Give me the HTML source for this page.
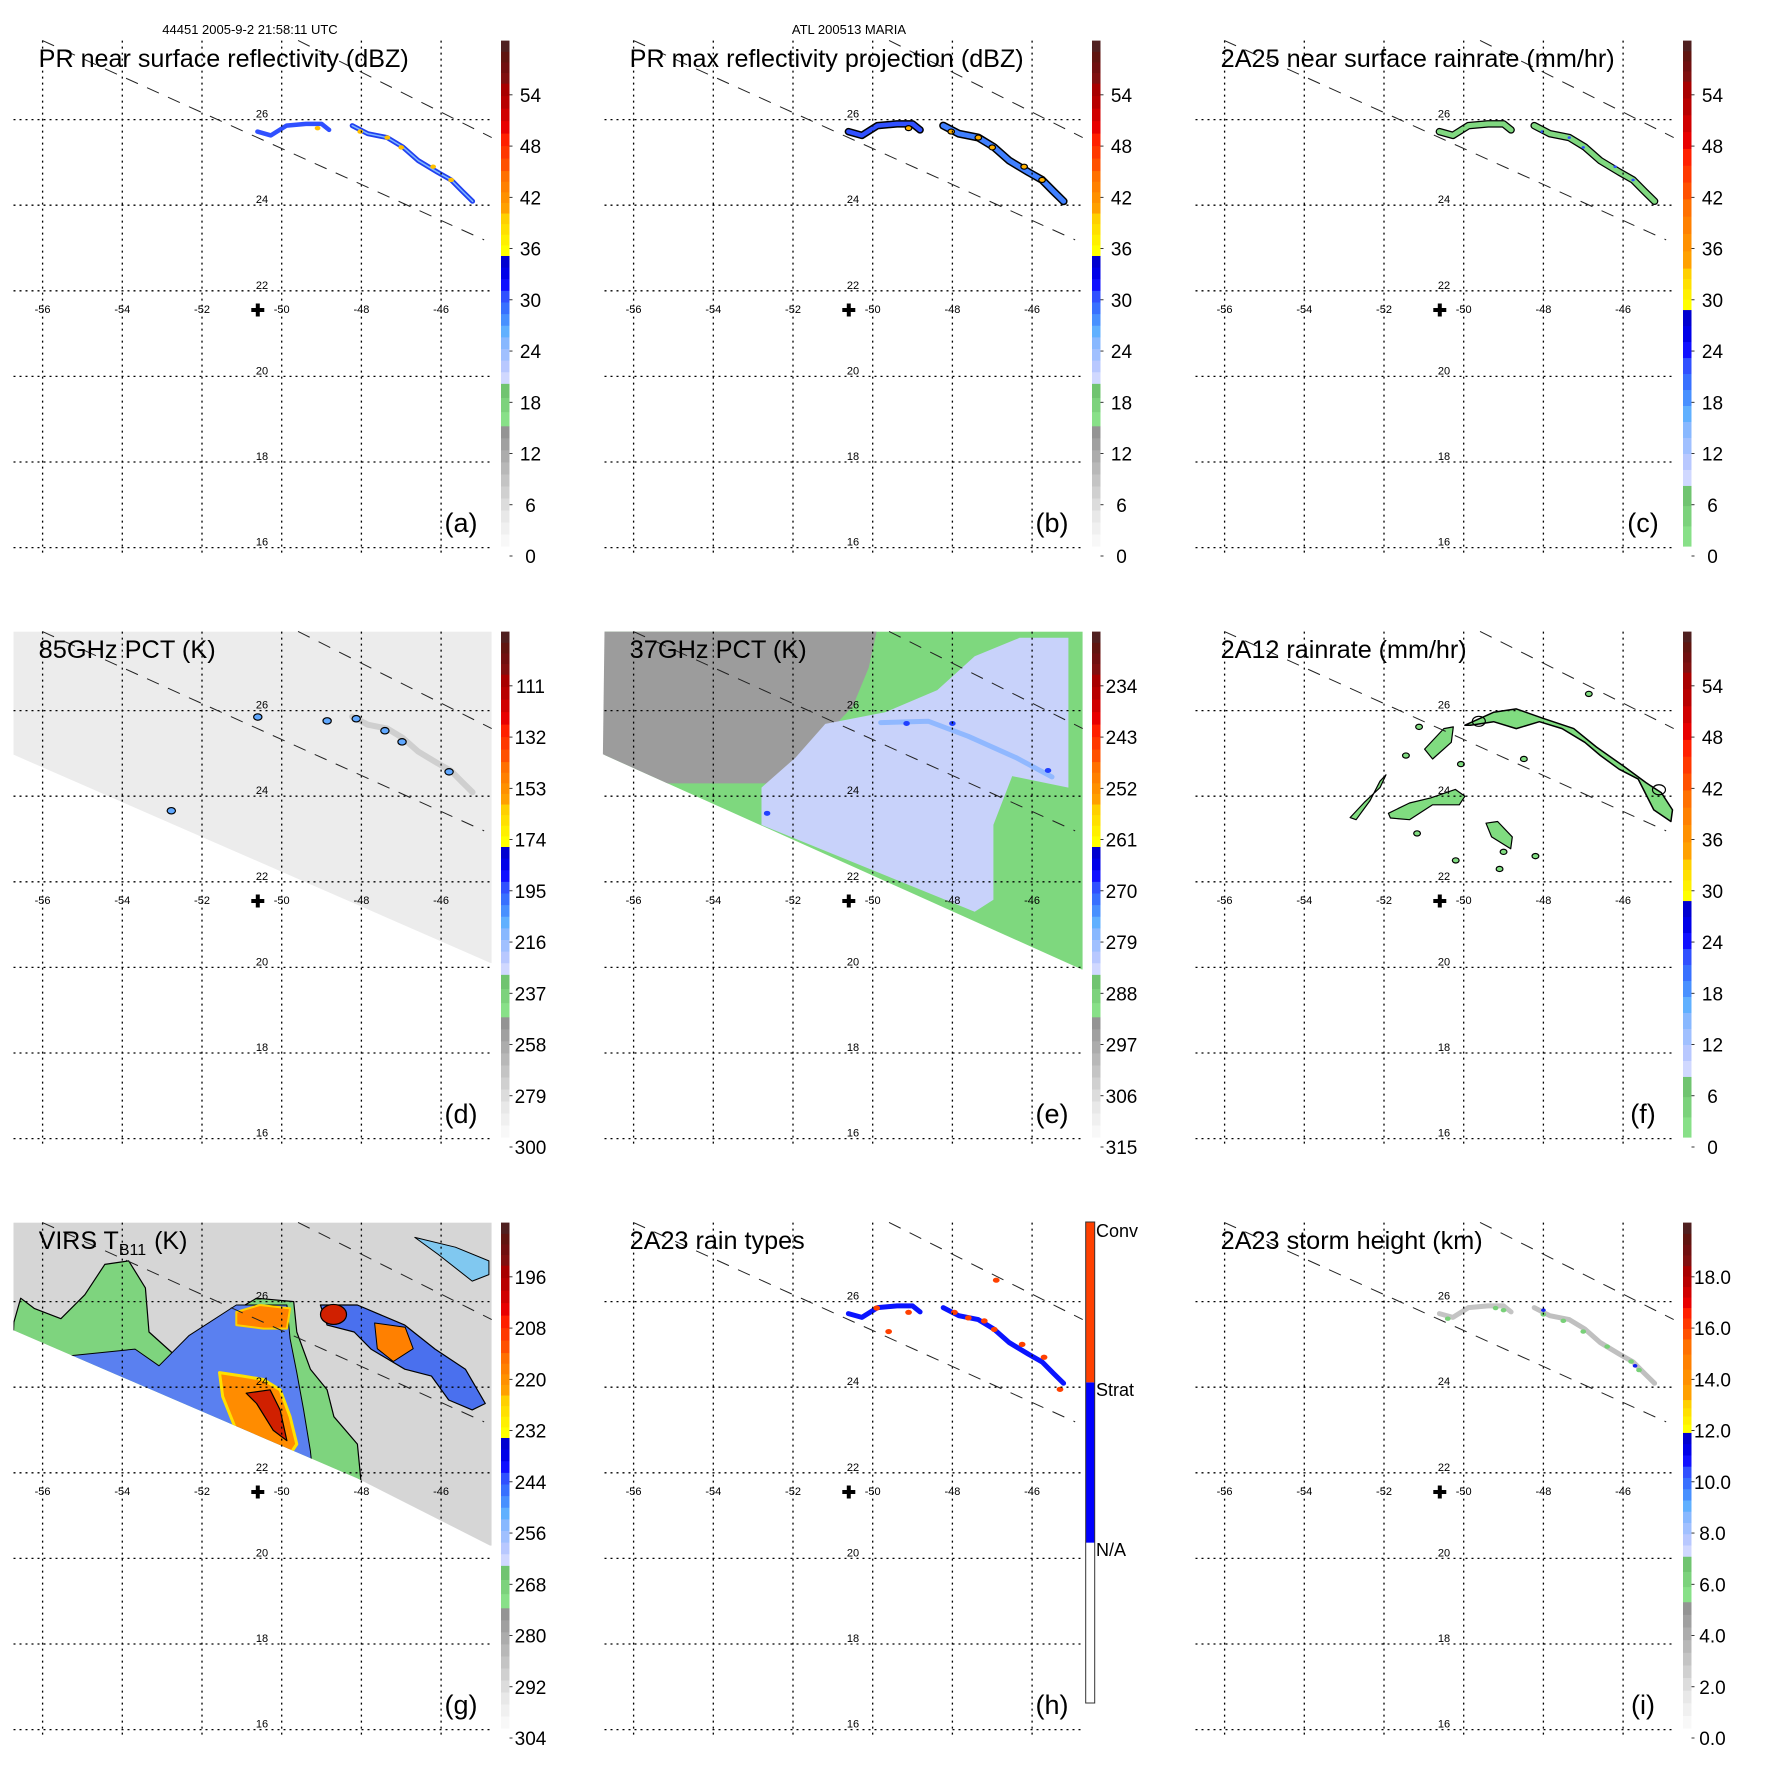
<!DOCTYPE html>
<html><head><meta charset="utf-8"><title>TRMM ATL 200513 MARIA</title>
<style>html,body{margin:0;padding:0;background:#fff}svg{display:block}text{font-family:"Liberation Sans",Arial,sans-serif}</style>
</head><body>
<svg id="fig" xmlns="http://www.w3.org/2000/svg" width="1771" height="1771" viewBox="0 0 1771 1771">
<rect x="0" y="0" width="1771" height="1771" fill="#fff"/>
<text x="250" y="34" font-size="13" text-anchor="middle">44451 2005-9-2 21:58:11 UTC</text>
<text x="849" y="34" font-size="13" text-anchor="middle">ATL 200513 MARIA</text>
</svg>
<script>
// ---- data arrays ----
const lonTicks = [-56,-54,-52,-50,-48,-46];
const latTicks = [16,18,20,22,24,26];
const lonLabels = ["-56","-54","-52","-50","-48","-46"];
const latLabels = ["16","18","20","22","24","26"];
const panelTitles = ["PR near surface reflectivity (dBZ)","PR max reflectivity projection (dBZ)","2A25 near surface rainrate (mm/hr)","85GHz PCT (K)","37GHz PCT (K)","2A12 rainrate (mm/hr)","VIRS T","2A23 rain types","2A23 storm height (km)"];
const titleWidths = [370,394,394,177,177,246,0,175,262];
const panelLetters = ["(a)","(b)","(c)","(d)","(e)","(f)","(g)","(h)","(i)"];
const tickA = [0,6,12,18,24,30,36,42,48,54];
const tickD = [300,279,258,237,216,195,174,153,132,111];
const tickE = [315,306,297,288,279,270,261,252,243,234];
const tickG = [304,292,280,268,256,244,232,220,208,196];
const tickI = ["0.0","2.0","4.0","6.0","8.0","10.0","12.0","14.0","16.0","18.0"];
const rangeA = [0,60], rangeD = [300,90], rangeE = [315,225], rangeG = [304,184], rangeI = [0,20];
const stormLon = -50.6, stormLat = 21.55;
const swathLoLon = [-56.01,-44.92], swathLoLat = [27.85,23.19];
const swathHiLon = [-49.59,-44.73], swathHiLat = [27.85,25.58];
// rain band (PR)
const bandWLon = [-50.61,-50.27,-49.88,-49.39,-49.0,-48.81];
const bandWLat = [25.72,25.63,25.86,25.9,25.9,25.76];
const bandELon = [-48.23,-47.84,-47.35,-46.96,-46.57,-46.09,-45.75,-45.46,-45.21];
const bandELat = [25.86,25.67,25.58,25.36,25.04,24.77,24.59,24.32,24.09];
const coreLon = [-48.03,-47.35,-47.0,-46.2,-45.75,-49.1];
const coreLat = [25.72,25.58,25.35,24.9,24.59,25.8];
const convLon = [-49.9,-49.1,-47.95,-47.6,-47.2,-46.95,-46.25,-45.7,-45.3,-49.6,-46.9];
const convLat = [25.85,25.75,25.75,25.62,25.55,25.35,25.0,24.7,23.95,25.3,26.5];
// 85 GHz contoured blobs
const blob85Lon = [-48.86,-48.13,-47.41,-46.98,-45.8,-52.77,-50.6];
const blob85Lat = [25.76,25.81,25.53,25.27,24.57,23.66,25.85];
// 37 GHz regions
const warm37Lon = [-56.9,-49.9,-50.1,-50.5,-50.9,-51.5,-51.9,-52.2,-56.9];
const warm37Lat = [27.85,27.85,27.0,26.1,25.7,25.25,24.7,24.3,24.3];
const cold37Lon = [-52.79,-51.94,-51.19,-49.69,-48.38,-47.44,-46.31,-45.09,-45.09,-46.5,-46.97,-46.97,-47.44,-52.79];
const cold37Lat = [24.2,24.9,25.69,25.96,26.48,27.27,27.7,27.7,24.2,24.47,23.33,21.58,21.3,23.33];
const streakLon = [-49.8,-48.6,-47.6,-46.4,-45.5];
const streakLat = [25.72,25.75,25.4,24.9,24.45];
const swathDLon = [-56.78,-44.75], swathDLat = [24.99,20.1];
const swathELon = [-56.77,-44.75], swathELat = [24.98,19.95];
const swathGLon = [-56.73,-48.1,-44.77], swathGLat = [25.33,21.87,20.3];
// 2A12 rain polygons
const arcLon = [-49.97,-49.25,-48.68,-48.01,-47.24,-46.67,-46.0,-45.43,-45.04,-44.76,-44.8,-45.23,-45.62,-46.1,-46.57,-46.96,-47.53,-48.1,-48.68,-49.25,-49.83];
const arcLat = [25.66,25.96,26.04,25.82,25.58,25.15,24.71,24.32,24.08,23.68,23.41,23.68,24.4,24.63,24.95,25.26,25.58,25.74,25.58,25.74,25.66];
const zigLon = [-52.85,-52.5,-52.1,-51.95,-52.1,-52.35,-52.7];
const zigLat = [23.5,23.85,24.2,24.5,24.35,23.9,23.45];
const horzLon = [-51.89,-51.36,-50.83,-50.21,-49.97,-50.11,-50.78,-51.36,-51.84];
const horzLat = [23.6,23.84,23.96,24.16,24.0,23.8,23.8,23.45,23.49];
const ulLon = [-50.98,-50.5,-50.26,-50.31,-50.78];
const ulLat = [25.1,25.58,25.62,25.26,24.87];
const southLon = [-49.44,-49.15,-48.78,-48.82,-49.3];
const southLat = [23.37,23.41,23.05,22.77,23.05];
const smallLon = [-51.12,-46.86,-51.17,-51.45,-50.07,-48.49,-50.2,-49.0,-48.2,-49.1];
const smallLat = [25.62,26.39,23.13,24.95,24.75,24.87,22.5,22.7,22.6,22.3];
// VIRS regions
const shieldLon = [-56.72,-56.55,-56.21,-55.54,-54.94,-54.44,-53.84,-53.42,-53.33,-52.66,-51.98,-51.22,-50.63,-49.7,-49.62,-49.28,-48.86,-48.69,-48.1,-48.0,-48,-57];
const shieldLat = [25.52,26.08,25.84,25.6,26.16,26.87,26.95,26.32,25.29,24.73,25.13,25.76,26.08,26.0,25.29,24.42,23.94,23.31,22.67,21.7,20,20];
const blueLon = [-55.37,-53.68,-53.08,-52.32,-51.14,-49.87,-49.79,-49.62,-49.45,-49.28,-49,-56];
const blueLat = [24.73,24.89,24.5,25.21,25.92,25.92,25.13,24.34,23.47,22.51,20,20];
const orangeLon = [-51.56,-50.97,-50.46,-50.04,-49.79,-49.62,-49.79,-50.63,-51.14,-51.48];
const orangeLat = [24.34,24.26,24.18,23.94,23.31,22.67,22.44,22.75,22.99,23.78];
const redLon = [-50.89,-50.29,-50.04,-49.87,-50.21,-50.63];
const redLat = [23.86,23.94,23.47,22.75,22.99,23.62];
const orange2Lon = [-51.14,-50.55,-49.79,-49.87,-50.46,-51.14];
const orange2Lat = [25.76,25.92,25.84,25.37,25.37,25.45];
const rightLon = [-49.03,-48.1,-46.91,-46.15,-45.39,-44.89,-45.22,-45.81,-46.24,-46.91,-47.76,-48.18,-48.86];
const rightLat = [25.92,25.92,25.45,24.89,24.42,23.62,23.47,23.7,24.26,24.42,24.89,25.29,25.45];
const orange3Lon = [-47.67,-46.9,-46.7,-47.2,-47.6];
const orange3Lat = [25.5,25.4,24.9,24.6,24.9];
const urLon = [-46.66,-45.64,-44.8,-44.8,-45.22,-46.07];
const urLat = [27.5,27.27,26.95,26.63,26.48,27.1];
const redBlobLon = [-48.7], redBlobLat = [25.7];
// storm height patches
const hgtLon = [-49.2,-49.0,-48.0,-47.5,-47.0,-46.4,-45.8,-45.6,-50.4];
const hgtLat = [25.85,25.8,25.7,25.55,25.3,24.95,24.6,24.4,25.6];

// ---- colour scales ----
const grays = ['#f8f8f8','#f0f0f0','#e8e8e8','#dcdcdc','#d0d0d0','#c4c4c4','#b8b8b8','#acacac','#a0a0a0','#949494'];
const greens = ['#88e088','#7cd27c','#70c470'];
const blues = ['#d0d8ff','#b8c8ff','#a0c0ff','#88b8ff','#60b0ff','#4890ff','#3870ff','#3050ff','#1010ff','#0000e8','#0000d0'];
const yellows = ['#ffff00','#fff000','#ffe000','#ffd000'];
const oranges = ['#ffa000','#ff9000','#ff8000','#ff7000'];
const reds = ['#ff5000','#ff3800','#ff2000','#e80000','#d00000','#b80000','#a80000'];
const darks = ['#801010','#701010','#601510','#502020'];
const scaleA = [[0,.238,grays],[.238,.322,greens],[.322,.575,blues],[.575,.659,yellows],[.659,.743,oranges],[.743,.916,reds],[.916,1,darks]];
const scaleC = [[0,.12,greens],[.12,.468,blues],[.468,.55,yellows],[.55,.687,oranges],[.687,.92,reds],[.92,1,darks]];
const scaleI = [[0,.25,grays],[.25,.34,greens],[.34,.585,blues],[.585,.65,yellows],[.65,.77,oranges],[.77,.915,reds],[.915,1,darks]];

// ---- axis functions ----
const NS = 'http://www.w3.org/2000/svg';
const svg = document.getElementById('fig');
function px(lon){ return 42.6 + (lon + 56) * 39.85; }
function py(lat){ return 119.6 + (26 - lat) * 42.8; }
function pts(lons, lats){ return lons.map((l,i)=>px(l).toFixed(1)+','+py(lats[i]).toFixed(1)).join(' '); }
function mk(tag, attrs, parent){ const e = document.createElementNS(NS, tag); for (const k in attrs) e.setAttribute(k, attrs[k]); parent.appendChild(e); return e; }
const PL = 13.5, PR = 491.7, PT = 40.6, PB = 555, CBX = 501, CBW = 8.5, CBT = 40.6, CBB = 546;

function poly(g, lons, lats, fill, stroke, sw, name){
  const p = mk('polygon', {points: pts(lons, lats), fill: fill, stroke: stroke || 'none', 'stroke-width': sw || 0, 'stroke-linejoin':'round'}, g);
  
  
  return p;
}
function line(g, lons, lats, stroke, sw, name){
  const p = mk('polyline', {points: pts(lons, lats), fill: 'none', stroke: stroke, 'stroke-width': sw, 'stroke-linejoin':'round', 'stroke-linecap':'round'}, g);
  
  
  return p;
}
function dots(g, lons, lats, r, fill, stroke, name){
  lons.forEach((l,i)=>{
    const c = mk('ellipse', {cx: px(l), cy: py(lats[i]), rx: r*1.3, ry: r, fill: fill, stroke: stroke || 'none', 'stroke-width': 1.2}, g);
    
    
  });
}

function colorbar(g, scale, ticks, range){
  const H = CBB - CBT;
  scale.forEach(seg=>{
    const n = seg[2].length, f0 = seg[0], f1 = seg[1];
    seg[2].forEach((col,k)=>{
      const a = f0 + (f1-f0)*k/n, b = f0 + (f1-f0)*(k+1)/n;
      const r = mk('rect', {x: CBX, y: CBB - b*H, width: CBW, height: (b-a)*H + 0.6, fill: col}, g);
      
      
    });
  });
  ticks.forEach(t=>{
    const f = (parseFloat(t) - range[0]) / (range[1] - range[0]);
    const y = 556 - f * 512.4;
    const tk = mk('line', {x1: CBX+CBW, x2: CBX+CBW+3, y1: y, y2: y, stroke:'#000', 'stroke-width':0.8}, g);
    
    
    const tx = mk('text', {x: CBX+CBW+21, y: y+7, 'font-size': 19, 'text-anchor':'middle'}, g);
    tx.textContent = String(t);
    
    
  });
}

function frame(g, idx){
  // grid
  lonTicks.forEach((lon,i)=>{
    const l = mk('line', {x1: px(lon), x2: px(lon), y1: PT, y2: PB, stroke:'#000', 'stroke-width':1.3, 'stroke-dasharray':'2,4'}, g);
    
    
    const t = mk('text', {x: px(lon), y: py(22)+22, 'font-size': 11, 'text-anchor':'middle'}, g);
    t.textContent = lonLabels[i];
    
    
  });
  latTicks.forEach((lat,i)=>{
    const l = mk('line', {x1: PL, x2: PR, y1: py(lat), y2: py(lat), stroke:'#000', 'stroke-width':1.3, 'stroke-dasharray':'2,4'}, g);
    
    
    const t = mk('text', {x: 262, y: py(lat)-2, 'font-size': 11, 'text-anchor':'middle'}, g);
    t.textContent = latLabels[i];
    
    
  });
  // swath edges
  const d1 = mk('line', {x1: px(swathLoLon[0]), y1: py(swathLoLat[0]), x2: px(swathLoLon[1]), y2: py(swathLoLat[1]), stroke:'#222', 'stroke-width':1, 'stroke-dasharray':'13,10'}, g);
  
  
  const d2 = mk('line', {x1: px(swathHiLon[0]), y1: py(swathHiLat[0]), x2: px(swathHiLon[1]), y2: py(swathHiLat[1]), stroke:'#222', 'stroke-width':1, 'stroke-dasharray':'13,10'}, g);
  
  
  // storm center cross
  const cx = px(stormLon), cy = py(stormLat);
  const cr = mk('path', {d: `M${cx-6.5},${cy}H${cx+6.5}M${cx},${cy-6.5}V${cy+6.5}`, stroke:'#000', 'stroke-width':4}, g);
  
  
  // title
  const tt = mk('text', {x: 38.7, y: 67, 'font-size': 25}, g);
  if (idx === 6) {
    tt.textContent = 'VIRS T';
    const sub = mk('tspan', {'font-size': 16, dy: 6}, tt); sub.textContent = 'B11';
    
    
    const rest = mk('tspan', {'font-size': 25, dy: -6, dx: 8}, tt); rest.textContent = '(K)';
    
    
  } else {
    tt.textContent = panelTitles[idx];
    tt.setAttribute('textLength', titleWidths[idx]);
    tt.setAttribute('lengthAdjust', 'spacingAndGlyphs');
  }
  
  
  const lt = mk('text', {x: 461, y: 532, 'font-size': 27, 'text-anchor':'middle'}, g);
  lt.textContent = panelLetters[idx];
  
  
}

function swathClip(g, id, lons, lats){
  const cp = mk('clipPath', {id: id}, g);
  
  
  const all = pts(lons, lats);
  mk('polygon', {points: `${PL},${PT} ${PR},${PT} ${PR},${py(lats[lats.length-1])} ${all.split(' ').reverse().join(' ')}`}, cp);
  return `url(#${id})`;
}

const panels = [];
for (let i=0;i<9;i++){
  const g = mk('g', {transform: `translate(${(i%3)*591},${Math.floor(i/3)*591})`}, svg);
  
  
  panels.push(g);
}
function layer(p, clip){ const g = mk('g', clip ? {'clip-path': clip} : {}, p);   return g; }

// (a) near-surface reflectivity
{ const g = layer(panels[0]);
  line(g, bandWLon, bandWLat, '#3050ff', 4.5, 'rain-band-west');
  line(g, bandELon, bandELat, '#2040f0', 5, 'rain-band-east');
  line(g, bandELon, bandELat, '#80b8ff', 1.5, 'rain-band-east-light');
  dots(g, coreLon, coreLat, 2.2, '#ffc000', null, 'reflectivity-core'); }
// (b) max reflectivity
{ const g = layer(panels[1]);
  line(g, bandWLon, bandWLat, '#000', 7.5, 'rain-band-outline-west');
  line(g, bandELon, bandELat, '#000', 8, 'rain-band-outline-east');
  line(g, bandWLon, bandWLat, '#3050ff', 4.5, 'rain-band-west');
  line(g, bandELon, bandELat, '#4080ff', 5, 'rain-band-east');
  dots(g, coreLon, coreLat, 2.5, '#ffb000', '#000', 'reflectivity-core'); }
// (c) 2A25 rainrate
{ const g = layer(panels[2]);
  line(g, bandWLon, bandWLat, '#000', 7.5, 'rain-outline-west');
  line(g, bandELon, bandELat, '#000', 7.5, 'rain-outline-east');
  line(g, bandWLon, bandWLat, '#80d880', 5, 'rain-band-west');
  line(g, bandELon, bandELat, '#80d880', 5, 'rain-band-east');
  dots(g, coreLon.slice(0,5), coreLat.slice(0,5), 1.3, '#3050ff', null, 'rain-core'); }
// (d) 85 GHz PCT
{ const p = panels[3]; const g = layer(p, swathClip(p, 'swd', swathDLon, swathDLat));
  const bg = mk('rect', {x: PL, y: PT, width: PR-PL, height: 520, fill: '#ececec'}, g);
  
  
  line(g, bandELon, bandELat, '#cfcfcf', 6, 'tb85-depression-band');
  dots(g, blob85Lon, blob85Lat, 3.2, '#60a8ff', '#000', 'tb85-contour-blob'); }
// (e) 37 GHz PCT
{ const p = panels[4]; const g = layer(p, swathClip(p, 'swe', swathELon, swathELat));
  const bg = mk('rect', {x: PL, y: PT, width: PR-PL, height: 520, fill: '#7ed87e'}, g);
  
  
  poly(g, warm37Lon, warm37Lat, '#9c9c9c', null, 0, 'tb37-warm-region');
  poly(g, cold37Lon, cold37Lat, '#c8d2fa', null, 0, 'tb37-cold-region');
  line(g, streakLon, streakLat, '#90b8ff', 5, 'tb37-streak');
  dots(g, [-52.65,-45.6,-49.15,-48.0], [23.6,24.6,25.7,25.7], 2.5, '#2040ff', null, 'tb37-min'); }
// (f) 2A12 rainrate
{ const g = layer(panels[5]);
  poly(g, arcLon, arcLat, '#80dc80', '#000', 1.5, 'rain-arc');
  poly(g, zigLon, zigLat, '#80dc80', '#000', 1.2, 'rain-patch');
  poly(g, horzLon, horzLat, '#80dc80', '#000', 1.2, 'rain-patch');
  poly(g, ulLon, ulLat, '#80dc80', '#000', 1.2, 'rain-patch');
  poly(g, southLon, southLat, '#80dc80', '#000', 1.2, 'rain-patch');
  dots(g, smallLon, smallLat, 2.6, '#80dc80', '#000', 'rain-speck');
  dots(g, [-49.62,-45.1], [25.75,24.15], 5, 'none', '#000', 'rain-ring'); }
// (g) VIRS
{ const p = panels[6]; const g = layer(p, swathClip(p, 'swg', swathGLon, swathGLat));
  const bg = mk('rect', {x: PL, y: PT, width: PR-PL, height: 520, fill: '#d6d6d6'}, g);
  
  
  poly(g, shieldLon, shieldLat, '#7ed47e', '#000', 1.2, 'cloud-shield-edge');
  poly(g, blueLon, blueLat, '#5a80f0', '#000', 1, 'cloud-shield-cold');
  poly(g, rightLon, rightLat, '#4a70ee', '#000', 1.2, 'cloud-band-east');
  poly(g, urLon, urLat, '#80c8f0', '#000', 1, 'cloud-northeast');
  poly(g, orangeLon, orangeLat, '#ff8c00', '#ffe000', 3, 'cold-top-core');
  poly(g, redLon, redLat, '#d02000', '#000', 1.2, 'coldest-top');
  poly(g, orange2Lon, orange2Lat, '#ff8000', '#ffd000', 2, 'cold-top-north');
  poly(g, orange3Lon, orange3Lat, '#ff8000', '#000', 1, 'cold-top-east');
  dots(g, redBlobLon, redBlobLat, 10, '#d02000', '#000', 'coldest-top-north'); }
// (h) rain types
{ const g = layer(panels[7]);
  line(g, bandWLon, bandWLat, '#0a14ff', 5, 'stratiform-west');
  line(g, bandELon, bandELat, '#0a14ff', 5, 'stratiform-east');
  dots(g, convLon, convLat, 2.6, '#ff4000', null, 'convective-pixel');
  const cb = panels[7];
  [['#ffffff',0,1/3],['#0000ff',1/3,2/3],['#ff4000',2/3,1]].forEach(s=>{
    const r = mk('rect', {x: 494.7, y: 40 + (1-s[2])*481, width: 9, height: (s[2]-s[1])*481, fill: s[0]}, cb);
    
    
  });
  const fr = mk('rect', {x: 494.7, y: 40, width: 9, height: 481, fill: 'none', stroke: '#333', 'stroke-width': 1}, cb);
  
  
  [['Conv',48],['Strat',207],['N/A',367]].forEach(s=>{
    const t = mk('text', {x: 505, y: s[1]+7, 'font-size': 18}, cb);
    t.textContent = s[0];
    
    
  }); }
// (i) storm height
{ const g = layer(panels[8]);
  line(g, bandWLon, bandWLat, '#c4c4c4', 5, 'storm-height-west');
  line(g, bandELon, bandELat, '#c0c0c0', 5, 'storm-height-east');
  dots(g, hgtLon, hgtLat, 2.2, '#78d078', null, 'storm-height-patch');
  dots(g, [-48.0,-45.7], [25.8,24.5], 1.8, '#1020f0', null, 'storm-height-tall'); }

// frames and colorbars
for (let i=0;i<9;i++) frame(panels[i], i);
colorbar(panels[0], scaleA, tickA, rangeA);
colorbar(panels[1], scaleA, tickA, rangeA);
colorbar(panels[2], scaleC, tickA, rangeA);
colorbar(panels[3], scaleA, tickD, rangeD);
colorbar(panels[4], scaleA, tickE, rangeE);
colorbar(panels[5], scaleC, tickA, rangeA);
colorbar(panels[6], scaleA, tickG, rangeG);
colorbar(panels[8], scaleI, tickI, rangeI);
</script>
</body></html>
